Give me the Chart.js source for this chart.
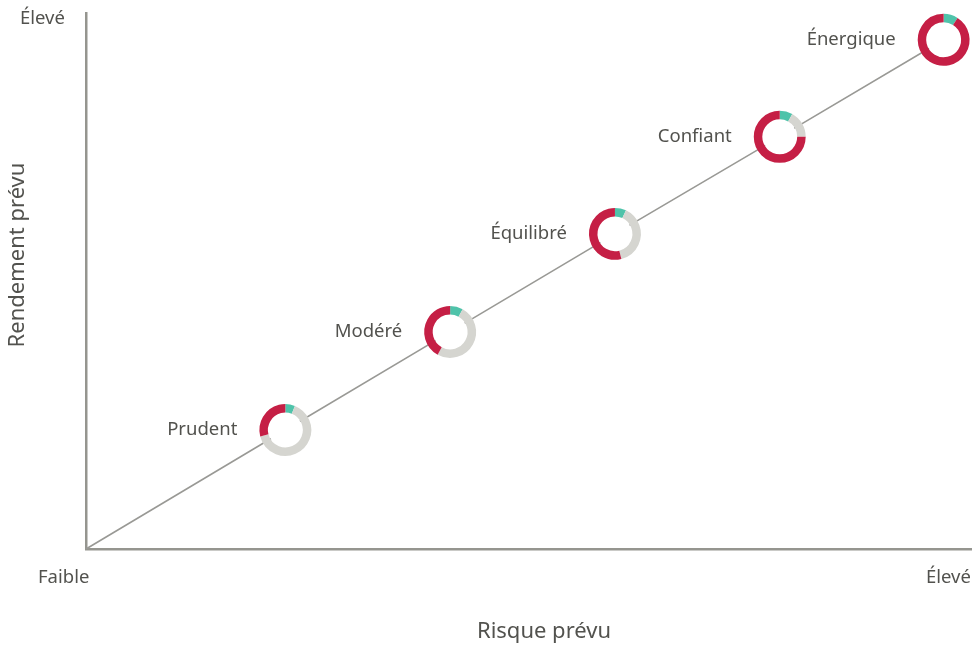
<!DOCTYPE html>
<html>
<head>
<meta charset="utf-8">
<script src="https://cdn.jsdelivr.net/npm/chart.js@4.4.1/dist/chart.umd.min.js"></script>
<style>
    html, body { margin: 0; padding: 0; background: #fff; }
    #wrap { width: 972px; height: 647px; }
</style>
</head>
<body>
<div id="wrap"><canvas id="profile_chart" width="972" height="647"></canvas></div>
<script>
// profils de portefeuille
const profiles = ["Prudent", "Modéré", "Équilibré", "Confiant", "Énergique"];
const risk = [22.5, 41.1, 59.7, 78.3, 96.8];
const returns = [22.2, 40.5, 58.8, 76.9, 95.0];
// répartition en % : liquidités / revenu fixe / actions
const cash = [6, 8, 7, 8, 9];
const fixedIncome = [65, 50, 39, 17, 0];
const equity = [29, 42, 54, 75, 91];
const axisLow = "Faible";
const axisHigh = "Élevé";

const colors = { cash: "#4fc3aa", fixed: "#d5d5d0", equity: "#c51f45", axis: "#95958f", text: "#52524e" };
const font = "'Noto Sans', 'Open Sans', sans-serif";

const donutPlugin = {
    id: "donuts",
    afterDatasetsDraw: function (chart) {
        let ctx = chart.ctx, meta = chart.getDatasetMeta(1);
        ctx.save();
        meta.data.forEach(function (pt, i) {
            let parts = [[cash[i], colors.cash], [fixedIncome[i], colors.fixed], [equity[i], colors.equity]];
            let total = cash[i] + fixedIncome[i] + equity[i];
            let start = -Math.PI / 2;
            // fond blanc
            ctx.beginPath();
            ctx.arc(pt.x, pt.y, 17, 0, Math.PI * 2);
            ctx.fillStyle = "#fff";
            ctx.fill();
            ctx.lineWidth = 8.5;
            parts.forEach(function (p) {
                if (!p[0]) return;
                let end = start + p[0] / total * Math.PI * 2;
                ctx.beginPath();
                ctx.arc(pt.x, pt.y, 21.7, start, end);
                ctx.strokeStyle = p[1];
                ctx.stroke();
                start = end;
            });
            ctx.fillStyle = colors.text;
            ctx.font = "18.5px " + font;
            ctx.textAlign = "right";
            ctx.textBaseline = "middle";
            ctx.fillText(profiles[i], pt.x - 48, pt.y - 0.5);
        });
        ctx.restore();
    },
    afterDraw: function (chart) {
        let ctx = chart.ctx, area = chart.chartArea;
        ctx.save();
        ctx.fillStyle = colors.text;
        ctx.font = "18.5px " + font;
        ctx.textBaseline = "middle";
        ctx.textAlign = "left";
        ctx.fillText(axisHigh, 20, area.top + 6);
        ctx.fillText(axisLow, 38, area.bottom + 29);
        ctx.fillText(axisHigh, area.right - 46, area.bottom + 29);
        ctx.font = "22px " + font;
        ctx.textAlign = "center";
        ctx.fillText("Risque prévu", 544, 632);
        ctx.translate(18, 255);
        ctx.rotate(-Math.PI / 2);
        ctx.fillText("Rendement prévu", 0, 0);
        ctx.restore();
    }
};

const linePoints = [{ x: 0, y: 0 }].concat(risk.map(function (r, i) { return { x: r, y: returns[i] }; }));

let chart = new Chart(document.getElementById("profile_chart").getContext("2d"), {
    type: "scatter",
    data: {
        datasets: [{
            type: "line",
            data: linePoints,
            borderColor: "#999995",
            borderWidth: 1.6,
            pointRadius: 0,
            fill: false,
            clip: false
        }, {
            data: risk.map(function (r, i) { return { x: r, y: returns[i] }; }),
            pointRadius: 0,
            clip: false
        }]
    },
    options: {
        responsive: false,
        animation: false,
        devicePixelRatio: 1,
        layout: { padding: { left: 86, right: 0, top: 13, bottom: 98 } },
        plugins: { legend: { display: false }, tooltip: { enabled: false } },
        scales: {
            x: {
                type: "linear", min: 0, max: 100,
                grid: { display: false, drawTicks: false },
                ticks: { display: false },
                border: { display: true, color: colors.axis, width: 2.5 }
            },
            y: {
                type: "linear", min: 0, max: 100,
                grid: { display: false, drawTicks: false },
                ticks: { display: false },
                border: { display: true, color: colors.axis, width: 2.5 }
            }
        }
    },
    plugins: [donutPlugin]
});
</script>
</body>
</html>
